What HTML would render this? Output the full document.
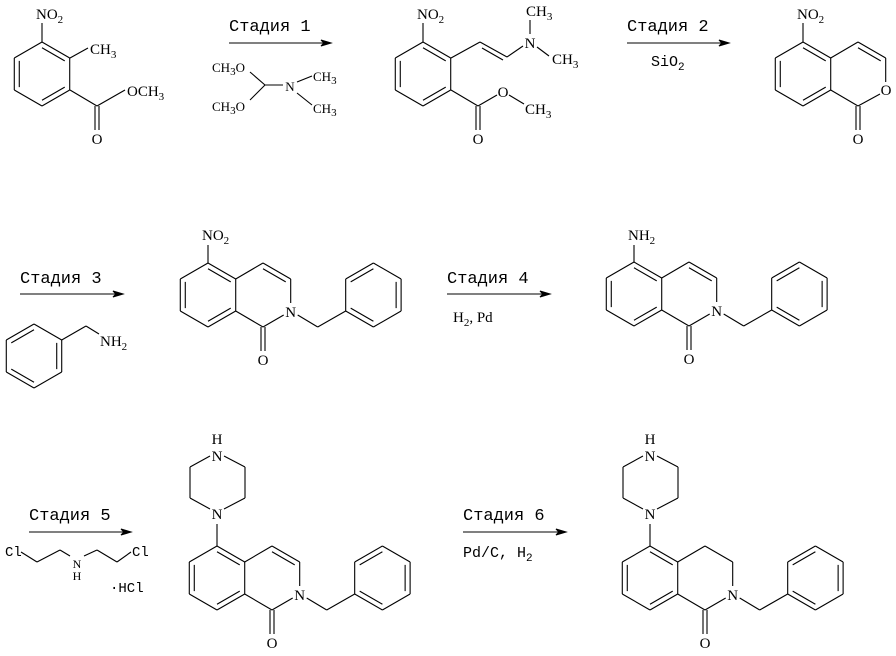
<!DOCTYPE html>
<html><head><meta charset="utf-8">
<style>
html,body{margin:0;padding:0;background:#fff;}
svg{display:block;}
text{font-family:"Liberation Serif",serif;font-size:15px;fill:#000;}
.m{font-family:"Liberation Mono",monospace;font-size:17px;}
.s{font-size:11px;}
.ms{font-family:"Liberation Mono",monospace;font-size:14px;}
</style></head>
<body>
<svg id="g" width="896" height="656" viewBox="0 0 896 656" xmlns="http://www.w3.org/2000/svg">
<g id="L" stroke="#000" stroke-width="1.1" fill="none"></g>
<g id="T">
<text x="36" y="19">NO<tspan class="s" dy="4">2</tspan></text>
<text x="90" y="54">CH<tspan class="s" dy="4">3</tspan></text>
<text x="127" y="96">OCH<tspan class="s" dy="4">3</tspan></text>
<text x="97" y="144" text-anchor="middle">O</text>
<text class="m" x="229" y="31">Стадия 1</text>
<text x="212" y="72" style="font-size:13px">CH<tspan class="s" dy="3">3</tspan><tspan dy="-3">O</tspan></text>
<text x="212" y="111" style="font-size:13px">CH<tspan class="s" dy="3">3</tspan><tspan dy="-3">O</tspan></text>
<text x="290" y="91" text-anchor="middle" style="font-size:13px">N</text>
<text x="313" y="81" style="font-size:13px">CH<tspan class="s" dy="3">3</tspan></text>
<text x="313" y="113" style="font-size:13px">CH<tspan class="s" dy="3">3</tspan></text>
<text x="417" y="19">NO<tspan class="s" dy="4">2</tspan></text>
<text x="530" y="48" text-anchor="middle">N</text>
<text x="526" y="16">CH<tspan class="s" dy="4">3</tspan></text>
<text x="552" y="64">CH<tspan class="s" dy="4">3</tspan></text>
<text x="503" y="97" text-anchor="middle">O</text>
<text x="525" y="114">CH<tspan class="s" dy="4">3</tspan></text>
<text x="478" y="144" text-anchor="middle">O</text>
<text class="m" x="627" y="31">Стадия 2</text>
<text class="m" x="651" y="66" style="font-size:15px">SiO<tspan class="s" dy="4">2</tspan></text>
<text x="797" y="19">NO<tspan class="s" dy="4">2</tspan></text>
<text x="886" y="95" text-anchor="middle">O</text>
<text x="858" y="144" text-anchor="middle">O</text>
<text class="m" x="20" y="283">Стадия 3</text>
<text x="100" y="346">NH<tspan class="s" dy="4">2</tspan></text>
<text x="202" y="240">NO<tspan class="s" dy="4">2</tspan></text>
<text class="m" x="447" y="283">Стадия 4</text>
<text x="453" y="322">H<tspan class="s" dy="4">2</tspan><tspan dy="-4">,  Pd</tspan></text>
<text x="628" y="240">NH<tspan class="s" dy="4">2</tspan></text>
<text class="m" x="29" y="520">Стадия 5</text>
<text class="ms" x="5" y="556">Cl</text>
<text class="ms" x="132" y="556">Cl</text>
<text x="77" y="568" text-anchor="middle" style="font-size:12px">N</text>
<text x="77" y="580" text-anchor="middle" style="font-size:12px">H</text>
<text class="ms" x="110" y="592">·HCl</text>
<text class="m" x="463" y="520">Стадия 6</text>
<text class="m" x="463" y="557" style="font-size:15px">Pd/C, H<tspan class="s" dy="4">2</tspan></text>
</g>
</svg>
<script>
var L=document.getElementById('L'),T=document.getElementById('T'),NS='http://www.w3.org/2000/svg';
function ln(a,b,c,d){var e=document.createElementNS(NS,'line');e.setAttribute('x1',a);e.setAttribute('y1',b);e.setAttribute('x2',c);e.setAttribute('y2',d);L.appendChild(e);}
function tx(x,y,s,anchor){var e=document.createElementNS(NS,'text');e.setAttribute('x',x);e.setAttribute('y',y);if(anchor)e.setAttribute('text-anchor','middle');e.textContent=s;T.appendChild(e);}
var H=27.7;
function V(cx,cy,k){var a=(-90+60*k)*Math.PI/180;return [cx+32*Math.cos(a),cy+32*Math.sin(a)];}
function inner(cx,cy,p,q){var f=0.82;ln(cx+(p[0]-cx)*f,cy+(p[1]-cy)*f,cx+(q[0]-cx)*f,cy+(q[1]-cy)*f);}
function hex(cx,cy,d){for(var k=0;k<6;k++){var p=V(cx,cy,k),q=V(cx,cy,(k+1)%6);ln(p[0],p[1],q[0],q[1]);if(d.indexOf(k)>=0)inner(cx,cy,p,q);}}
function arrow(x1,x2,y){ln(x1,y,x2-6,y);var e=document.createElementNS(NS,'polygon');e.setAttribute('points',(x2-10)+','+(y-3)+' '+x2+','+y+' '+(x2-10)+','+(y+3)+' '+(x2-7)+','+y);e.setAttribute('fill','#000');L.appendChild(e);}
function iq(x,y,dihydro){
 hex(x,y,[0,2,4]);
 var rx=x+55;
 ln(x+H,y-16,rx,y-32);ln(rx,y-32,rx+H,y-16);
 if(!dihydro)inner(rx,y,[rx,y-32],[rx+H,y-16]);
 ln(rx+H,y-16,rx+H,y+8);
 tx(rx+H,y+22,'N',1);
 ln(rx+H-7,y+20,rx,y+32);ln(rx,y+32,x+H,y+16);
 ln(rx-2,y+32,rx-2,y+56);ln(rx+2,y+32,rx+2,y+56);
 tx(rx,y+70,'O',1);
 ln(rx+H+7,y+20,rx+H+27,y+32);ln(rx+H+27,y+32,rx+H+55,y+16);
 hex(rx+2*H+55,y,[1,3,5]);
}
function pip(x,y){
 ln(x,y,x,y-22);
 tx(x,y-27,'N',1);tx(x,y-85,'N',1);tx(x,y-102,'H',1);
 ln(x-7,y-37,x-27,y-48);ln(x-27,y-48,x-27,y-79);ln(x-27,y-79,x-7,y-90);
 ln(x+7,y-90,x+28,y-79);ln(x+28,y-79,x+28,y-48);ln(x+28,y-48,x+7,y-37);
}
hex(42,74,[0,2,4]);ln(42,42,42,23);ln(70,58,88,48);
ln(70,90,97,106);ln(95,106,95,130);ln(99,106,99,130);ln(97,106,125,90);
arrow(229,331,43);
ln(250,72,265,85);ln(265,85,250,100);ln(265,85,283,85);
ln(297,82,312,76);ln(297,93,312,105);
hex(423,74,[0,2,4]);ln(423,42,423,23);
ln(451,58,480,42);ln(480,42,507,57);
ln(482,48,503,60);
ln(507,57,523,46);ln(530,34,530,20);ln(537,47,549,56);
ln(451,90,478,106);ln(476,106,476,130);ln(480,106,480,130);ln(478,106,497,95);ln(509,95,524,104);
arrow(627,729,43);
hex(803,74,[0,2,4]);ln(803,42,803,23);
ln(830.7,58,858,42);ln(858,42,885.7,58);inner(858,74,[858,42],[885.7,58]);
ln(885.7,58,885.7,82);ln(880,94,858,106);ln(858,106,830.7,90);
ln(856,106,856,130);ln(860,106,860,130);
arrow(20,123,294);
hex(34,356,[1,3,5]);ln(61.7,340,86,326);ln(86,326,99,334);
iq(208,295,false);ln(208,263,208,245);
arrow(447,550,294);
iq(634,294,false);ln(634,262,634,245);
arrow(29,131,532);
ln(21,552,37,562);ln(37,562,60,550);ln(60,550,70,556);
ln(84,556,97,550);ln(97,550,117,562);ln(117,562,131,552);
iq(217,578,false);pip(217,546);
arrow(463,566,532);
iq(650,578,true);pip(650,546);
</script>
</body></html>
